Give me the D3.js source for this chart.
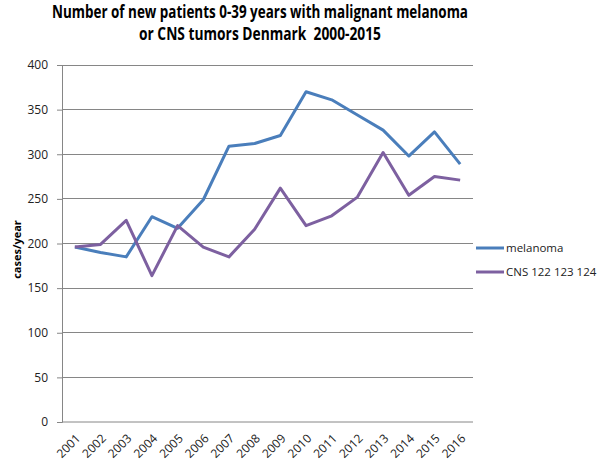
<!DOCTYPE html>
<html>
<head>
<meta charset="utf-8">
<script src="https://cdn.jsdelivr.net/npm/d3@7"></script>
<style>
  body { margin: 0; background: #fff; }
  text { font-family: "Open Sans", "Liberation Sans", sans-serif; }
</style>
</head>
<body>
<div id="chart"></div>
<script>
const years = ['2001','2002','2003','2004','2005','2006','2007','2008','2009','2010','2011','2012','2013','2014','2015','2016'];
const melanoma = [196, 190, 185, 230, 217, 249, 309, 312, 321, 370, 361, 344, 327, 298, 325, 289];
const cns = [196, 199, 226, 164, 220, 196, 185, 216, 262, 220, 231, 252, 302, 254, 275, 271];
const yTicks = [0, 50, 100, 150, 200, 250, 300, 350, 400];
const seriesNames = ['melanoma', 'CNS 122 123 124'];
const colors = ['#4a7ebb', '#7d60a0'];

const width = 604, height = 467;
const margin = { left: 62, right: 131, top: 65, bottom: 45 };

const svg = d3.select('#chart').append('svg')
    .attr('width', width)
    .attr('height', height);

const x = d3.scaleBand()
    .domain(years)
    .range([margin.left, width - margin.right]);

const y = d3.scaleLinear()
    .domain([0, 400])
    .range([height - margin.bottom, margin.top]);

// gridlines
svg.append('g')
    .selectAll('line')
    .data(yTicks.filter(d => d > 0))
    .enter()
    .append('line')
    .attr('x1', margin.left)
    .attr('x2', width - margin.right)
    .attr('y1', d => y(d))
    .attr('y2', d => y(d))
    .attr('stroke', '#868686')
    .attr('stroke-width', 1)
    .attr('shape-rendering', 'crispEdges');

// y axis
const yAxis = svg.append('g')
    .attr('transform', `translate(${margin.left},0)`)
    .call(d3.axisLeft(y).tickValues(yTicks).tickSize(5).tickPadding(9));
yAxis.select('.domain').attr('stroke', '#868686');
yAxis.selectAll('.tick line').attr('stroke', '#868686');
yAxis.selectAll('text').attr('font-size', '12px').attr('fill', '#222');

// x axis
const xAxis = svg.append('g')
    .attr('transform', `translate(0,${y(0)})`)
    .call(d3.axisBottom(x).tickSize(0).tickPadding(6));
xAxis.select('.domain').attr('stroke', '#868686').attr('d', `M${margin.left},0H${width - margin.right}`);
xAxis.selectAll('text')
    .attr('font-size', '12px')
    .attr('fill', '#222')
    .attr('text-anchor', 'end')
    .attr('dy', '0.35em')
    .attr('transform', 'translate(-1,10) rotate(-45)');

// lines
const line = d3.line()
    .x((d, i) => x(years[i]) + x.bandwidth() / 2)
    .y(d => y(d));

[melanoma, cns].forEach((s, i) => {
    svg.append('path')
        .datum(s)
        .attr('d', line)
        .attr('fill', 'none')
        .attr('stroke', colors[i])
        .attr('stroke-width', 3)
        .attr('stroke-linejoin', 'round');
});

// y title
svg.append('text')
    .attr('transform', `translate(21,${(y(0) + y(400)) / 2 + 6}) rotate(-90)`)
    .attr('text-anchor', 'middle')
    .attr('font-size', '11px')
    .attr('font-weight', 'bold')
    .text('cases/year');

// title
const title = ['Number of new patients 0-39 years with malignant melanoma', 'or CNS tumors Denmark  2000-2015'];
const titleW = [416, 242];
svg.append('g').selectAll('text')
    .data(title)
    .enter()
    .append('text')
    .attr('x', 260)
    .attr('y', (d, i) => 18 + i * 22)
    .attr('text-anchor', 'middle')
    .attr('font-size', '17px')
    .attr('font-weight', 'bold')
    .attr('textLength', (d, i) => titleW[i])
    .attr('lengthAdjust', 'spacingAndGlyphs')
    .style('white-space', 'pre')
    .text(d => d);

// legend
const legend = svg.append('g');
seriesNames.forEach((n, i) => {
    const ly = 248 + i * 24;
    legend.append('line')
        .attr('x1', 476).attr('x2', 504)
        .attr('y1', ly).attr('y2', ly)
        .attr('stroke', colors[i])
        .attr('stroke-width', 3);
    legend.append('text')
        .attr('x', 506)
        .attr('y', ly)
        .attr('dy', '0.35em')
        .attr('font-size', '11.5px')
        .attr('fill', '#222')
        .text(n);
});
</script>
</body>
</html>
